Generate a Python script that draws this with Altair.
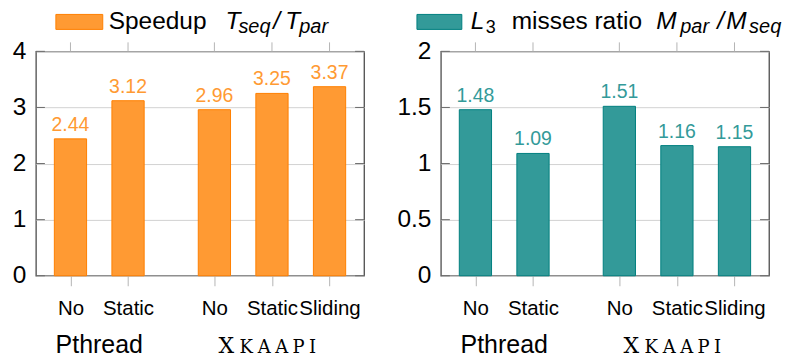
import altair as alt
import pandas as pd

# ---------------- data ----------------
categories = ["No", "Static", "No", "Static", "Sliding"]
groups = ["Pthread", "Pthread", "Xkaapi", "Xkaapi", "Xkaapi"]
positions = [1, 2, 3.5, 4.5, 5.5]
speedup = [2.44, 3.12, 2.96, 3.25, 3.37]
l3_ratio = [1.48, 1.09, 1.51, 1.16, 1.15]
speedup_ticks = [0, 1, 2, 3, 4]
ratio_ticks = [0, 0.5, 1, 1.5, 2]
group_centers = [1.5, 4.4]
xkaapi_letters = ["X", "K", "A", "A", "P", "I"]

# ---------------- style ----------------
W, H = 329, 225
XDOM = [0.4, 6.1]
BAR_HALF = 0.28
FONT = "Liberation Sans"
SERIF = "DejaVu Serif"
ORANGE_FILL, ORANGE_STROKE = "#ff9a33", "#ff8000"
TEAL_FILL, TEAL_STROKE = "#339a99", "#008080"

label_expr = " : ".join(
    f"datum.value == {p} ? '{c}'" for p, c in zip(positions, categories)
) + " : ''"

one = pd.DataFrame({"a": [0]})


def text_piece(txt, x, y, size, italic=False, color="black", font=FONT):
    return alt.Chart(one).mark_text(
        align="left", baseline="alphabetic", fontSize=size, font=font,
        fontStyle="italic" if italic else "normal", color=color
    ).encode(x=alt.value(x), y=alt.value(y), text=alt.value(txt))


def panel(values, ymax, yticks, fill, stroke, legend_parts, swatch):
    df = pd.DataFrame({"pos": positions, "cat": categories, "grp": groups, "val": values})
    df["lo"] = df["pos"] - BAR_HALF
    df["hi"] = df["pos"] + BAR_HALF
    xscale = alt.Scale(domain=XDOM, nice=False, zero=False)
    yscale = alt.Scale(domain=[0, ymax], nice=False)

    bars = alt.Chart(df).mark_bar(fill=fill, stroke=stroke, strokeWidth=1).encode(
        x=alt.X("lo:Q", scale=xscale, axis=alt.Axis(
            values=positions, labelExpr=label_expr, title=None, grid=False,
            domain=False, tickSize=10, tickColor="#b5b5b5", tickWidth=1,
            labelFont=FONT, labelFontSize=20.5, labelColor="black",
            labelPadding=13, labelOverlap=False, labelFlush=False, labelBound=False)),
        x2="hi:Q",
        y=alt.Y("val:Q", scale=yscale, axis=alt.Axis(
            values=yticks, format="~g", title=None, grid=True, gridColor="#d2d2d2",
            domain=False, ticks=False, labelFont=FONT, labelFontSize=24.5,
            labelColor="black", labelPadding=10)),
        y2=alt.datum(0),
    )

    labels = alt.Chart(df).mark_text(
        baseline="alphabetic", dy=-8, fontSize=19.5, font=FONT, color=fill
    ).encode(x=alt.X("pos:Q", scale=xscale), y=alt.Y("val:Q", scale=yscale),
             text=alt.Text("val:Q", format=".2f"))

    tdf = pd.DataFrame({"t": yticks})
    ltick = alt.Chart(tdf).mark_rule(color="#6a6a6a", strokeWidth=1).encode(
        y=alt.Y("t:Q", scale=yscale), x=alt.value(0), x2=alt.value(9))
    rtick = alt.Chart(tdf).mark_rule(color="#6a6a6a", strokeWidth=1).encode(
        y=alt.Y("t:Q", scale=yscale), x=alt.value(W - 9), x2=alt.value(W))

    top_ticks = alt.Chart(df).mark_rule(color="#b5b5b5", strokeWidth=1).encode(
        x=alt.X("pos:Q", scale=xscale), y=alt.value(-9), y2=alt.value(0))

    gdf = pd.DataFrame({"gx": group_centers})
    pth = alt.Chart(gdf.iloc[[0]]).mark_text(
        align="center", baseline="alphabetic", fontSize=25, font=FONT, color="black"
    ).encode(x=alt.X("gx:Q", scale=xscale), y=alt.value(H + 77), text=alt.value("Pthread"))

    # small-caps style "XKAAPI": a big X then smaller capitals
    offsets = [-40, -20, -2, 15.5, 32.5, 46.5]
    sizes = [22, 18, 18, 18, 18, 18]
    xk = []
    for ch, off, sz in zip(xkaapi_letters, offsets, sizes):
        xk.append(alt.Chart(gdf.iloc[[1]]).mark_text(
            align="center", baseline="alphabetic", fontSize=sz, font=SERIF, dx=off,
            color="black"
        ).encode(x=alt.X("gx:Q", scale=xscale), y=alt.value(H + 77), text=alt.value(ch)))

    sw = alt.Chart(one).mark_rect(fill=fill, stroke=stroke, strokeWidth=1).encode(
        x=alt.value(swatch[0]), x2=alt.value(swatch[1]), y=alt.value(-37), y2=alt.value(-22))

    pieces = [text_piece(*p) for p in legend_parts]

    return alt.layer(bars, labels, ltick, rtick, top_ticks, pth, *xk, sw, *pieces).properties(
        width=W, height=H)


LEG_Y, SUB_Y = -22, -18
LS, SS = 24.5, 20
left_legend = [
    ("Speedup", 73, LEG_Y, LS, False),
    ("T", 190, LEG_Y, LS, True),
    ("seq", 203, SUB_Y, SS, True),
    ("/", 238, LEG_Y, LS, True),
    ("T", 250, LEG_Y, LS, True),
    ("par", 264, SUB_Y, SS, True),
]
right_legend = [
    ("L", 30, LEG_Y, LS, True),
    ("3", 45, SUB_Y, 18, False),
    ("misses ratio", 71, LEG_Y, LS, False),
    ("M", 216, LEG_Y, LS, True),
    ("par", 240, SUB_Y, SS, True),
    ("/", 277, LEG_Y, LS, True),
    ("M", 286, LEG_Y, LS, True),
    ("seq", 309, SUB_Y, SS, True),
]

left = panel(speedup, 4, speedup_ticks, ORANGE_FILL, ORANGE_STROKE, left_legend, (20, 67))
right = panel(l3_ratio, 2, ratio_ticks, TEAL_FILL, TEAL_STROKE, right_legend, (-24, 21))

chart = alt.hconcat(left, right, spacing=30).properties(
    padding={"left": 3, "top": 0, "right": 0, "bottom": 0}
).configure_view(stroke="#4d4d4d", strokeWidth=1.3)

chart.save("out.html", embed_options={"renderer": "svg", "actions": False})
